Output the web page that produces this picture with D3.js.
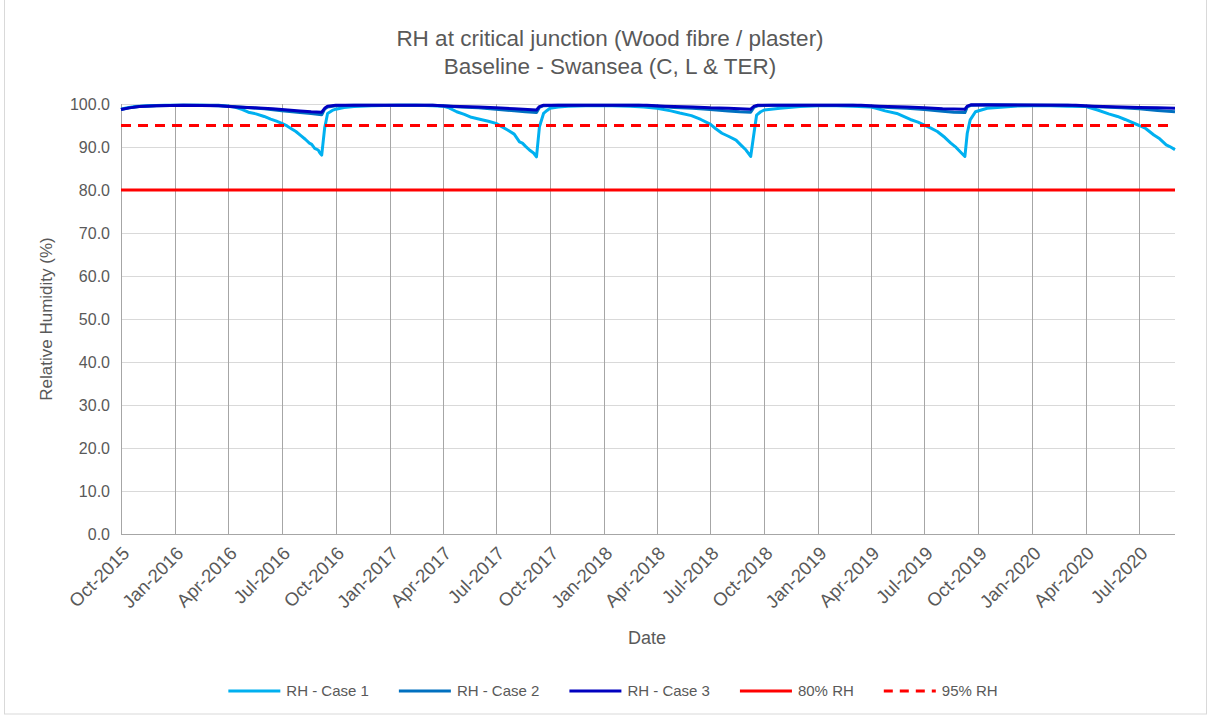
<!DOCTYPE html>
<html>
<head>
<meta charset="utf-8">
<script src="https://cdn.jsdelivr.net/npm/d3@7"></script>
<style>
  body { margin: 0; background: #fff; }
  svg { display: block; font-family: "Liberation Sans", Arial, sans-serif; }
</style>
</head>
<body>
<svg id="chart" width="1212" height="719"></svg>
<script>
// values
const case1 = [
  ["2015-10-01", 98.8], ["2015-10-10", 99.1], ["2015-10-25", 99.4], ["2015-11-15", 99.6], ["2015-12-15", 99.7],
  ["2016-01-15", 99.7], ["2016-02-15", 99.7], ["2016-03-15", 99.6], ["2016-04-01", 99.5], ["2016-04-12", 99.3],
  ["2016-04-25", 98.7], ["2016-05-05", 98.1], ["2016-05-18", 97.7], ["2016-06-01", 97.1], ["2016-06-12", 96.5],
  ["2016-06-22", 96.0], ["2016-07-01", 95.5], ["2016-07-10", 94.9], ["2016-07-18", 94.2], ["2016-07-25", 93.6],
  ["2016-08-03", 92.6], ["2016-08-10", 91.8], ["2016-08-17", 90.9], ["2016-08-21", 90.6], ["2016-08-26", 89.7],
  ["2016-09-01", 89.3], ["2016-09-04", 88.6], ["2016-09-07", 88.1], ["2016-09-12", 94.4], ["2016-09-17", 97.8],
  ["2016-09-25", 98.5],
  ["2016-10-01", 98.8], ["2016-10-15", 99.2], ["2016-11-01", 99.4], ["2016-12-01", 99.6], ["2017-01-15", 99.7],
  ["2017-02-15", 99.7], ["2017-03-15", 99.6], ["2017-04-01", 99.5], ["2017-04-12", 99.1], ["2017-04-25", 98.2],
  ["2017-05-08", 97.6], ["2017-05-20", 96.9], ["2017-06-05", 96.4], ["2017-06-18", 96.0], ["2017-07-01", 95.5],
  ["2017-07-10", 94.8], ["2017-07-20", 94.0], ["2017-08-01", 93.0], ["2017-08-10", 91.2], ["2017-08-15", 90.9],
  ["2017-08-20", 90.2], ["2017-08-27", 89.3], ["2017-09-03", 88.6], ["2017-09-08", 87.7], ["2017-09-13", 94.7],
  ["2017-09-20", 97.8], ["2017-09-26", 98.5],
  ["2017-10-01", 99.0], ["2017-10-15", 99.3], ["2017-11-01", 99.5], ["2017-12-01", 99.6], ["2018-01-15", 99.6],
  ["2018-02-15", 99.5], ["2018-03-10", 99.3], ["2018-04-01", 99.0], ["2018-04-25", 98.4], ["2018-05-10", 97.9],
  ["2018-05-30", 97.3], ["2018-06-15", 96.4], ["2018-07-01", 95.3], ["2018-07-10", 94.3], ["2018-07-21", 93.2],
  ["2018-08-01", 92.5], ["2018-08-14", 91.6], ["2018-08-22", 90.5], ["2018-08-31", 89.3], ["2018-09-08", 87.8],
  ["2018-09-14", 93.6], ["2018-09-18", 97.4], ["2018-09-25", 98.2],
  ["2018-10-01", 98.6], ["2018-10-28", 99.0], ["2018-12-01", 99.4], ["2019-01-01", 99.6], ["2019-02-01", 99.6],
  ["2019-03-01", 99.5], ["2019-04-01", 99.3], ["2019-04-10", 99.0], ["2019-04-25", 98.4], ["2019-05-15", 97.8],
  ["2019-06-07", 96.4], ["2019-06-20", 95.8], ["2019-07-01", 95.1], ["2019-07-12", 94.4], ["2019-07-23", 93.6],
  ["2019-08-05", 92.2], ["2019-08-15", 90.9], ["2019-08-24", 89.9], ["2019-08-31", 88.9], ["2019-09-08", 87.8],
  ["2019-09-12", 93.2], ["2019-09-17", 96.3], ["2019-09-26", 98.2],
  ["2019-10-16", 99.0], ["2019-12-01", 99.5], ["2020-01-01", 99.6], ["2020-02-01", 99.6], ["2020-03-01", 99.5],
  ["2020-04-01", 99.4], ["2020-04-21", 98.6], ["2020-05-10", 97.7], ["2020-05-25", 97.1], ["2020-06-07", 96.4],
  ["2020-07-01", 95.0], ["2020-07-12", 94.3], ["2020-07-26", 92.8], ["2020-08-05", 91.9], ["2020-08-16", 90.5],
  ["2020-08-22", 90.1], ["2020-08-31", 89.4]
];

const case2 = [
  ["2015-10-01", 98.7], ["2015-10-15", 99.1], ["2015-11-01", 99.4], ["2015-12-01", 99.6], ["2016-01-15", 99.7],
  ["2016-03-15", 99.7], ["2016-04-01", 99.5], ["2016-05-01", 99.2], ["2016-06-01", 98.9], ["2016-07-01", 98.4],
  ["2016-08-01", 98.0], ["2016-08-20", 97.8], ["2016-09-07", 97.5], ["2016-09-12", 98.8], ["2016-09-17", 99.3],
  ["2016-10-01", 99.6], ["2016-11-01", 99.7], ["2017-03-15", 99.7], ["2017-04-01", 99.6], ["2017-05-01", 99.3],
  ["2017-06-01", 99.1], ["2017-07-01", 98.8], ["2017-08-01", 98.4], ["2017-08-20", 98.2], ["2017-09-08", 98.0],
  ["2017-09-13", 99.2], ["2017-09-20", 99.6], ["2017-10-15", 99.7], ["2018-03-01", 99.7], ["2018-04-01", 99.5],
  ["2018-05-01", 99.2], ["2018-06-01", 99.0], ["2018-07-01", 98.7], ["2018-08-01", 98.4], ["2018-08-20", 98.2],
  ["2018-09-08", 98.1], ["2018-09-14", 99.3], ["2018-09-20", 99.6], ["2018-10-15", 99.7], ["2019-03-01", 99.7],
  ["2019-04-01", 99.5], ["2019-05-01", 99.2], ["2019-06-01", 99.0], ["2019-07-01", 98.7], ["2019-08-01", 98.3],
  ["2019-08-20", 98.1], ["2019-09-08", 98.0], ["2019-09-12", 99.3], ["2019-09-18", 99.7], ["2019-10-15", 99.8],
  ["2020-03-01", 99.7], ["2020-04-01", 99.5], ["2020-05-01", 99.3], ["2020-06-01", 99.1], ["2020-07-01", 98.9],
  ["2020-08-01", 98.5], ["2020-08-31", 98.2]
];

const case3 = [
  ["2015-10-01", 98.7], ["2015-10-15", 99.1], ["2015-11-01", 99.4], ["2015-12-01", 99.6], ["2016-01-15", 99.7],
  ["2016-03-15", 99.6], ["2016-04-15", 99.3], ["2016-05-15", 99.1], ["2016-06-15", 98.9], ["2016-07-01", 98.7],
  ["2016-08-01", 98.4], ["2016-08-20", 98.2], ["2016-09-07", 98.1], ["2016-09-12", 99.0], ["2016-09-17", 99.5],
  ["2016-10-01", 99.7], ["2017-03-15", 99.7], ["2017-04-15", 99.5], ["2017-06-01", 99.3], ["2017-07-01", 99.1],
  ["2017-08-01", 98.9], ["2017-09-08", 98.6], ["2017-09-13", 99.4], ["2017-09-20", 99.7], ["2018-03-15", 99.7],
  ["2018-04-15", 99.5], ["2018-06-01", 99.3], ["2018-07-01", 99.1], ["2018-08-01", 99.0], ["2018-09-08", 98.8],
  ["2018-09-14", 99.5], ["2018-09-20", 99.7], ["2019-03-15", 99.7], ["2019-04-15", 99.5], ["2019-06-01", 99.3],
  ["2019-07-01", 99.1], ["2019-08-01", 98.9], ["2019-09-08", 98.8], ["2019-09-12", 99.5], ["2019-09-18", 99.8],
  ["2020-03-15", 99.7], ["2020-04-15", 99.5], ["2020-06-01", 99.3], ["2020-07-01", 99.2], ["2020-08-01", 99.1],
  ["2020-08-31", 99.0]
];

const thresholds = [80, 95];
const yTicks = [0, 10, 20, 30, 40, 50, 60, 70, 80, 90, 100];
const xStart = "2015-10-01";
const xEnd = "2020-08-31";

const seriesNames = ["RH - Case 1", "RH - Case 2", "RH - Case 3", "80% RH", "95% RH"];
const seriesColors = ["#00b0f0", "#0070c0", "#0000c0", "#ff0000", "#ff0000"];

const parse = d3.timeParse("%Y-%m-%d");
const svg = d3.select("#chart");
const textColor = "#595959";

// outer chart border
svg.append("rect")
  .attr("x", 4.5).attr("y", -1)
  .attr("width", 1202).attr("height", 715)
  .attr("fill", "none").attr("stroke", "#d9d9d9");

const x = d3.scaleTime()
  .domain([parse(xStart), parse(xEnd)])
  .range([121, 1175]);

const y = d3.scaleLinear()
  .domain([0, 100])
  .range([534, 104]);

const xTicks = d3.timeMonth.every(3).range(parse(xStart), parse(xEnd));

// horizontal gridlines
svg.append("g")
  .selectAll("line")
  .data(yTicks)
  .enter().append("line")
  .attr("x1", x.range()[0]).attr("x2", x.range()[1])
  .attr("y1", d => Math.round(y(d)) + 0.5).attr("y2", d => Math.round(y(d)) + 0.5)
  .attr("stroke", "#d9d9d9");

// vertical gridlines
svg.append("g")
  .selectAll("line")
  .data(xTicks)
  .enter().append("line")
  .attr("x1", d => Math.round(x(d)) + 0.5).attr("x2", d => Math.round(x(d)) + 0.5)
  .attr("y1", y(100)).attr("y2", y(0))
  .attr("stroke", "#a6a6a6");

// bottom axis line
svg.append("line")
  .attr("x1", x.range()[0]).attr("x2", x.range()[1])
  .attr("y1", Math.round(y(0)) + 0.5).attr("y2", Math.round(y(0)) + 0.5)
  .attr("stroke", "#a6a6a6");

// y tick labels
svg.append("g")
  .selectAll("text")
  .data(yTicks)
  .enter().append("text")
  .attr("x", 110)
  .attr("y", d => y(d))
  .attr("dy", "0.35em")
  .attr("text-anchor", "end")
  .attr("font-size", 16)
  .attr("fill", textColor)
  .text(d => d3.format(".1f")(d));

// x tick labels
const fmt = d3.timeFormat("%b-%Y");
svg.append("g")
  .selectAll("text")
  .data(xTicks)
  .enter().append("text")
  .attr("transform", d => `translate(${x(d) + 5},${550}) rotate(-45)`)
  .attr("dy", "0.35em")
  .attr("text-anchor", "end")
  .attr("font-size", 18.5)
  .attr("fill", textColor)
  .text(d => fmt(d));

// lines
const line = d3.line()
  .x(d => x(parse(d[0])))
  .y(d => y(d[1]));

[case1, case2, case3].forEach((s, i) => {
  svg.append("path")
    .datum(s)
    .attr("d", line)
    .attr("fill", "none")
    .attr("stroke", seriesColors[i])
    .attr("stroke-width", 3)
    .attr("stroke-linejoin", "round");
});

thresholds.forEach((t, i) => {
  svg.append("line")
    .attr("x1", x.range()[0]).attr("x2", x.range()[1])
    .attr("y1", y(t)).attr("y2", y(t))
    .attr("stroke", seriesColors[3 + i])
    .attr("stroke-width", 3)
    .attr("stroke-dasharray", i === 1 ? "10,7" : null);
});

// titles
svg.append("text")
  .attr("x", 610).attr("y", 46)
  .attr("text-anchor", "middle")
  .attr("font-size", 22.5)
  .attr("fill", textColor)
  .text("RH at critical junction (Wood fibre / plaster)");

svg.append("text")
  .attr("x", 610).attr("y", 74)
  .attr("text-anchor", "middle")
  .attr("font-size", 22.5)
  .attr("fill", textColor)
  .text("Baseline - Swansea (C, L & TER)");

svg.append("text")
  .attr("transform", "translate(46,319) rotate(-90)")
  .attr("dy", "0.35em")
  .attr("text-anchor", "middle")
  .attr("font-size", 17)
  .attr("fill", textColor)
  .text("Relative Humidity (%)");

svg.append("text")
  .attr("x", 647).attr("y", 638)
  .attr("dy", "0.35em")
  .attr("text-anchor", "middle")
  .attr("font-size", 18)
  .attr("fill", textColor)
  .text("Date");

// legend
const legend = svg.append("g");
let lx = 0;
seriesNames.forEach((name, i) => {
  const g = legend.append("g").attr("transform", `translate(${lx},0)`);
  g.append("line")
    .attr("x1", 0).attr("x2", 52)
    .attr("y1", 0).attr("y2", 0)
    .attr("stroke", seriesColors[i])
    .attr("stroke-width", 3)
    .attr("stroke-dasharray", i === 4 ? "9,7" : null);
  const t = g.append("text")
    .attr("x", 58)
    .attr("dy", "0.35em")
    .attr("font-size", 15)
    .attr("fill", textColor)
    .text(name);
  lx += 58 + t.node().getComputedTextLength() + 30;
});
const legendWidth = lx - 30;
legend.attr("transform", `translate(${613 - legendWidth / 2},691)`);
</script>
</body>
</html>
